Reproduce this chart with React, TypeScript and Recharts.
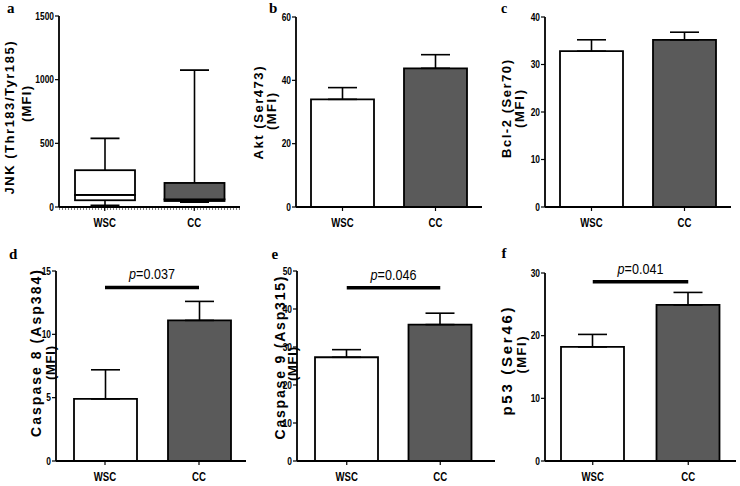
import React from 'react';
import { BarChart, Bar, ComposedChart, XAxis, YAxis, ErrorBar, ReferenceLine, Cell } from 'recharts';

const groups = ['WSC', 'CC'];

// a: JNK box plot (min, Q1, median, Q3, max)
const jnkMin = [11, 40];
const jnkQ1 = [53, 47];
const jnkMedian = [95, 60];
const jnkQ3 = [289, 189];
const jnkMax = [539, 1075];
const jnkTicks = [0, 500, 1000, 1500];

// b-f: mean + SEM
const aktMean = [34.0, 43.8];
const aktSem = [3.7, 4.3];
const aktTicks = [0, 20, 40, 60];

const bclMean = [32.8, 35.2];
const bclSem = [2.4, 1.6];
const bclTicks = [0, 10, 20, 30, 40];

const casp8Mean = [4.9, 11.1];
const casp8Sem = [2.3, 1.5];
const casp8Ticks = [0, 5, 10, 15];

const casp9Mean = [27.3, 35.9];
const casp9Sem = [2.0, 3.0];
const casp9Ticks = [0, 10, 20, 30, 40, 50];

const p53Mean = [18.2, 24.9];
const p53Sem = [2.0, 2.0];
const p53Ticks = [0, 10, 20, 30];

const pValues = ['0.037', '0.046', '0.041'];
const sigLevels = [13.7, 45.6, 28.6];

const fills = ['#ffffff', '#5a5a5a'];
const sans = 'Liberation Sans, Arial, sans-serif';
const serif = 'Liberation Serif, Times New Roman, serif';

// narrow look: Liberation Sans squeezed horizontally
const SQUEEZE = 0.8;

const YTick = (p: any) => (
  <g transform={`translate(${p.x},${p.y}) scale(${SQUEEZE},1)`}>
    <text x={0} y={0} dy="0.36em" textAnchor="end" fill="#000" style={{ fontFamily: sans, fontWeight: 700, fontSize: 10.5 }}>
      {p.payload.value}
    </text>
  </g>
);

const XTick = (p: any) => (
  <g transform={`translate(${p.x},${p.y}) scale(${SQUEEZE},1)`}>
    <text x={0} y={0} dy="0.72em" textAnchor="middle" fill="#000" style={{ fontFamily: sans, fontWeight: 700, fontSize: 12 }}>
      {p.payload.value}
    </text>
  </g>
);

type Geo = {
  x: number; y: number; w: number; h: number;
  left: number; top: number; right: number; bottom: number;
  padL?: number; padR?: number;
};

const XH = 20;

function chartBox(g: Geo) {
  return {
    style: { position: 'absolute' as const, left: g.x, top: g.y },
    width: g.w,
    height: g.h,
    margin: { top: g.top - g.y, right: g.x + g.w - g.right, bottom: g.y + g.h - g.bottom - XH, left: 0 },
    yWidth: g.left - g.x,
  };
}

const geoA: Geo = { x: 0, y: 0, w: 250, h: 240, left: 59, top: 16, right: 240, bottom: 207, padL: 1, padR: 1 };
const geoB: Geo = { x: 245, y: 0, w: 245, h: 240, left: 296, top: 17, right: 482, bottom: 207 };
const geoC: Geo = { x: 490, y: 0, w: 250, h: 240, left: 545, top: 17, right: 731, bottom: 207 };
const geoD: Geo = { x: 0, y: 240, w: 250, h: 246, left: 56, top: 271, right: 246, bottom: 461, padL: 2 };
const geoE: Geo = { x: 250, y: 240, w: 245, h: 246, left: 297, top: 271, right: 495, bottom: 461, padL: 3, padR: 8 };
const geoF: Geo = { x: 490, y: 240, w: 250, h: 246, left: 545, top: 273, right: 736, bottom: 461 };

const axisProps = { stroke: '#000', strokeWidth: 1.8 };
const tickLineProps = { stroke: '#000', strokeWidth: 1.2 };

const SigLabel = (props: any) => {
  const { viewBox, value } = props;
  if (!viewBox) return null;
  const cx = viewBox.x + viewBox.width / 2;
  return (
    <g transform={`translate(${cx},${viewBox.y - 8}) scale(0.84,1)`}>
      <text x={0} y={0} textAnchor="middle" fill="#000" style={{ fontFamily: sans, fontSize: 15 }}>
        <tspan style={{ fontStyle: 'italic' }}>p</tspan>
        <tspan>={value}</tspan>
      </text>
    </g>
  );
};

function MeanPanel({ geo, mean, sem, ticks, sigIndex }: { geo: Geo; mean: number[]; sem: number[]; ticks: number[]; sigIndex?: number }) {
  const b = chartBox(geo);
  const data = groups.map((g, i) => ({ group: g, mean: mean[i], err: [0, sem[i]] }));
  return (
    <div style={b.style}>
      <BarChart width={b.width} height={b.height} data={data} margin={b.margin}>
        <XAxis
          dataKey="group"
          height={XH}
          axisLine={axisProps}
          tickLine={tickLineProps}
          tickSize={4}
          tickMargin={7}
          tick={XTick}
          padding={{ left: geo.padL ?? 0, right: geo.padR ?? 0 }}
        />
        <YAxis
          width={b.yWidth}
          domain={[ticks[0], ticks[ticks.length - 1]]}
          ticks={ticks}
          interval={0}
          axisLine={axisProps}
          tickLine={tickLineProps}
          tickSize={4}
          tickMargin={1}
          tick={YTick}
        />
        <Bar dataKey="mean" barSize={63} stroke="#000" strokeWidth={1.8} isAnimationActive={false}>
          {data.map((d, i) => (
            <Cell key={d.group} fill={fills[i]} />
          ))}
          <ErrorBar dataKey="err" width={14.5} stroke="#000" strokeWidth={1.6} isAnimationActive={false} />
        </Bar>
        {sigIndex !== undefined && (
          <ReferenceLine
            segment={[{ x: groups[0], y: sigLevels[sigIndex] }, { x: groups[1], y: sigLevels[sigIndex] }]}
            stroke="#000"
            strokeWidth={3.5}
            label={{ content: SigLabel, value: pValues[sigIndex] }}
          />
        )}
      </BarChart>
    </div>
  );
}

const BaseShape = () => <g />;

const LowWhisker = (p: any) => {
  const cx = p.x + p.width / 2;
  const yb = p.y + p.height;
  return (
    <g stroke="#000">
      <line x1={cx} x2={cx} y1={p.y} y2={yb} strokeWidth={1.6} />
      <line x1={cx - 14.5} x2={cx + 14.5} y1={yb} y2={yb} strokeWidth={2.2} />
    </g>
  );
};

const HighWhisker = (p: any) => {
  const cx = p.x + p.width / 2;
  return (
    <g stroke="#000">
      <line x1={cx} x2={cx} y1={p.y} y2={p.y + p.height} strokeWidth={1.6} />
      <line x1={cx - 14.5} x2={cx + 14.5} y1={p.y} y2={p.y} strokeWidth={1.8} />
    </g>
  );
};

const BoxShape = (p: any) => (
  <rect x={p.x} y={p.y} width={p.width} height={p.height} fill={fills[p.index]} stroke="#000" strokeWidth={1.8} />
);

function BoxPanel() {
  const b = chartBox(geoA);
  const data = groups.map((g, i) => ({
    group: g,
    base: jnkMin[i],
    lowW: jnkQ1[i] - jnkMin[i],
    lowBox: jnkMedian[i] - jnkQ1[i],
    highBox: jnkQ3[i] - jnkMedian[i],
    highW: jnkMax[i] - jnkQ3[i],
  }));
  return (
    <div style={b.style}>
      <ComposedChart width={b.width} height={b.height} data={data} margin={b.margin}>
        <XAxis
          dataKey="group"
          height={XH}
          axisLine={axisProps}
          tickLine={tickLineProps}
          tickSize={4}
          tickMargin={7}
          tick={XTick}
          padding={{ left: geoA.padL ?? 0, right: geoA.padR ?? 0 }}
        />
        <YAxis
          width={b.yWidth}
          domain={[0, 1500]}
          ticks={jnkTicks}
          interval={0}
          axisLine={axisProps}
          tickLine={tickLineProps}
          tickSize={4}
          tickMargin={1}
          tick={YTick}
        />
        <Bar dataKey="base" stackId="box" barSize={60} shape={BaseShape} isAnimationActive={false} />
        <Bar dataKey="lowW" stackId="box" barSize={60} shape={LowWhisker} isAnimationActive={false} />
        <Bar dataKey="lowBox" stackId="box" barSize={60} shape={BoxShape} isAnimationActive={false} />
        <Bar dataKey="highBox" stackId="box" barSize={60} shape={BoxShape} isAnimationActive={false} />
        <Bar dataKey="highW" stackId="box" barSize={60} shape={HighWhisker} isAnimationActive={false} />
        <ReferenceLine y={0} stroke="#000" strokeWidth={1} strokeDasharray="1 2" transform="translate(0,2)" />
      </ComposedChart>
    </div>
  );
}

const yLabels = [
  { text: 'JNK (Thr183/Tyr185)', x: 9, y: 118, len: 153, size: 13 },
  { text: '(MFI)', x: 26, y: 104, len: 36, size: 13 },
  { text: 'Akt (Ser473)', x: 258, y: 113, len: 93, size: 13 },
  { text: '(MFI)', x: 271.5, y: 111.5, len: 37, size: 13 },
  { text: 'Bcl-2 (Ser70)', x: 506, y: 109, len: 98, size: 13 },
  { text: '(MFI)', x: 519.5, y: 109, len: 38, size: 13 },
  { text: 'Caspase 8 (Asp384)', x: 36.5, y: 353.5, len: 167, size: 14 },
  { text: '(MFI)', x: 50, y: 363, len: 34, size: 13 },
  { text: 'Caspase 9 (Asp315)', x: 280, y: 358, len: 163, size: 14 },
  { text: '(MFI)', x: 292, y: 364, len: 34, size: 13 },
  { text: 'p53 (Ser46)', x: 506.5, y: 361.5, len: 108, size: 15 },
  { text: '(MFI)', x: 521.5, y: 355, len: 37, size: 13 },
];

const panelLetters = [
  { t: 'a', x: 7, y: 13, size: 15 },
  { t: 'b', x: 269, y: 13, size: 15 },
  { t: 'c', x: 501, y: 13, size: 14 },
  { t: 'd', x: 9, y: 259, size: 15 },
  { t: 'e', x: 271.5, y: 259, size: 15 },
  { t: 'f', x: 501.5, y: 258, size: 15 },
];

export default function App() {
  return (
    <div style={{ position: 'absolute', left: 0, top: 0, width: 740, height: 486, background: '#fff', overflow: 'hidden' }}>
      <BoxPanel />
      <MeanPanel geo={geoB} mean={aktMean} sem={aktSem} ticks={aktTicks} />
      <MeanPanel geo={geoC} mean={bclMean} sem={bclSem} ticks={bclTicks} />
      <MeanPanel geo={geoD} mean={casp8Mean} sem={casp8Sem} ticks={casp8Ticks} sigIndex={0} />
      <MeanPanel geo={geoE} mean={casp9Mean} sem={casp9Sem} ticks={casp9Ticks} sigIndex={1} />
      <MeanPanel geo={geoF} mean={p53Mean} sem={p53Sem} ticks={p53Ticks} sigIndex={2} />
      <svg width={740} height={486} style={{ position: 'absolute', left: 0, top: 0, pointerEvents: 'none' }}>
        {yLabels.map((l, i) => (
          <text
            key={i}
            x={l.x}
            y={l.y}
            dy="0.35em"
            textAnchor="middle"
            transform={`rotate(-90, ${l.x}, ${l.y})`}
            textLength={l.len}
            lengthAdjust="spacing"
            fill="#000"
            style={{ fontFamily: sans, fontWeight: 700, fontSize: l.size }}
          >
            {l.text}
          </text>
        ))}
        {panelLetters.map((p) => (
          <text key={p.t} x={p.x} y={p.y} fill="#000" style={{ fontFamily: serif, fontWeight: 700, fontSize: p.size }}>
            {p.t}
          </text>
        ))}
      </svg>
    </div>
  );
}
